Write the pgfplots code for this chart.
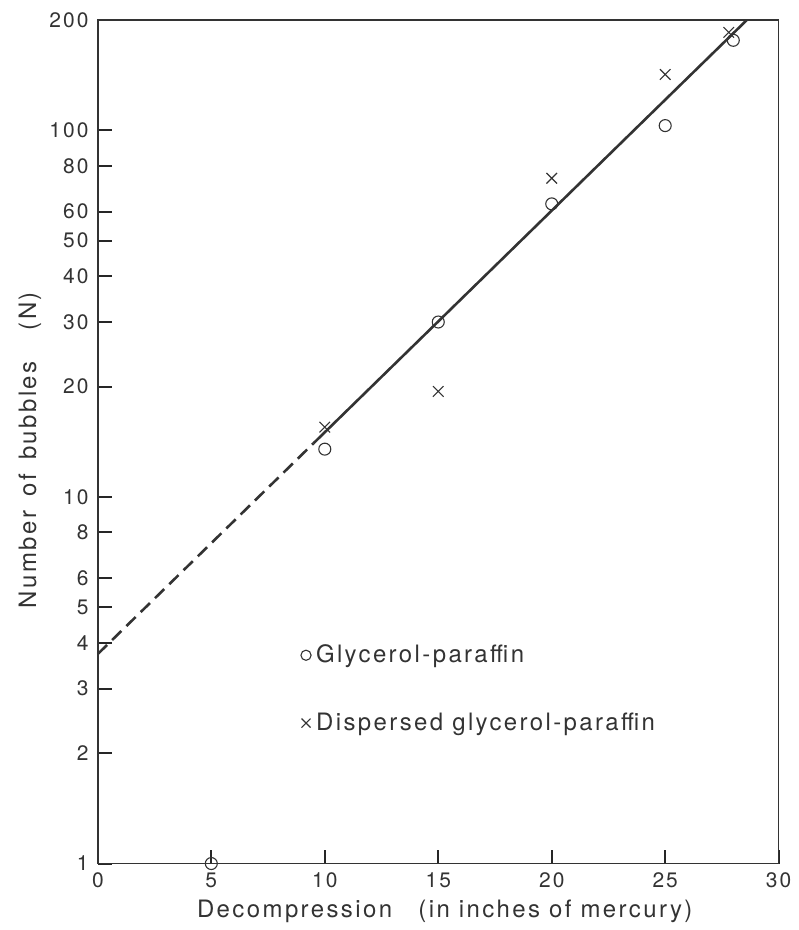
\documentclass[border=0pt]{standalone}
\usepackage{fontspec}
\setmainfont{TeX Gyre Heros}[LetterSpace=10]
\usepackage{pgfplots}
\pgfplotsset{compat=1.18}
\definecolor{ink}{HTML}{333333}
\begin{document}
\fontsize{21}{25}\selectfont
\begin{tikzpicture}
\path (-98pt,-65pt) rectangle (695pt,865pt);
\begin{axis}[
  scale only axis, width=682pt, height=845pt,
  ymode=log, xmin=0, xmax=30, ymin=1, ymax=200,
  clip=false,
  axis line style={ink, line width=1.6pt},
  xtick={0,5,10,15,20,25,30},
  xticklabels={0,5,10,15,20,25,30},
  ytick={1,2,3,4,5,6,8,10,20,30,40,50,60,80,100,200},
  yticklabels={1,2,3,4,5,6,8,10,20,30,40,50,60,80,100,200},
  yminorticks=false,
  xtick pos=left, ytick pos=left,
  xtick align=inside, ytick align=inside,
  major tick length=14pt,
  every tick/.style={draw=black!85, line width=2pt},
  /pgf/number format/assume math mode=true,
  tick label style={font=\fontsize{21}{25}\selectfont, text=ink},
  yticklabel style={xshift=-2pt},
  xticklabel style={yshift=-2pt},
  xlabel={Decompression\hspace{1.1em}(in inches of mercury)},
  ylabel={Number\hspace{0.6em}of\hspace{0.6em}bubbles\hspace{1.3em}(N)},
  label style={font=\fontsize{24}{28}\selectfont, text=ink},
  xlabel style={at={(axis description cs:0.5095,-0.057)}, anchor=center},
  ylabel style={at={(axis description cs:-0.0997,0.49)}, anchor=center, rotate=0},
  legend style={at={(axis description cs:0.298,0.262)}, anchor=north west,
    draw=none, fill=none, row sep=43pt, text=ink,
    font=\fontsize{24}{28}\selectfont, inner sep=0pt,
    nodes={inner xsep=5pt}},
  legend cell align=left,
  legend image post style={scale=0.85},
]
\addplot[ink, line width=2.6pt, dash pattern=on 13pt off 7pt, forget plot]
  coordinates {(0,3.73) (9.5,14.0)};
\addplot[ink, line width=2.6pt, forget plot]
  coordinates {(9.5,14.0) (28.6,200)};
\addplot[only marks, mark=o, mark size=6pt, ink,
  mark options={fill=white, line width=1.1pt}]
  coordinates {(5,1.0) (10,13.5) (15,30) (20,63) (25,103) (28,176)};
\addlegendentry{Glycerol-paraffin}
\addplot[only marks, mark=x, mark size=7.5pt, ink,
  mark options={line width=1.1pt}]
  coordinates {(10,15.5) (15,19.4) (20,74) (25,142) (27.8,185)};
\addlegendentry{Dispersed glycerol-paraffin}
\end{axis}
\end{tikzpicture}
\end{document}
